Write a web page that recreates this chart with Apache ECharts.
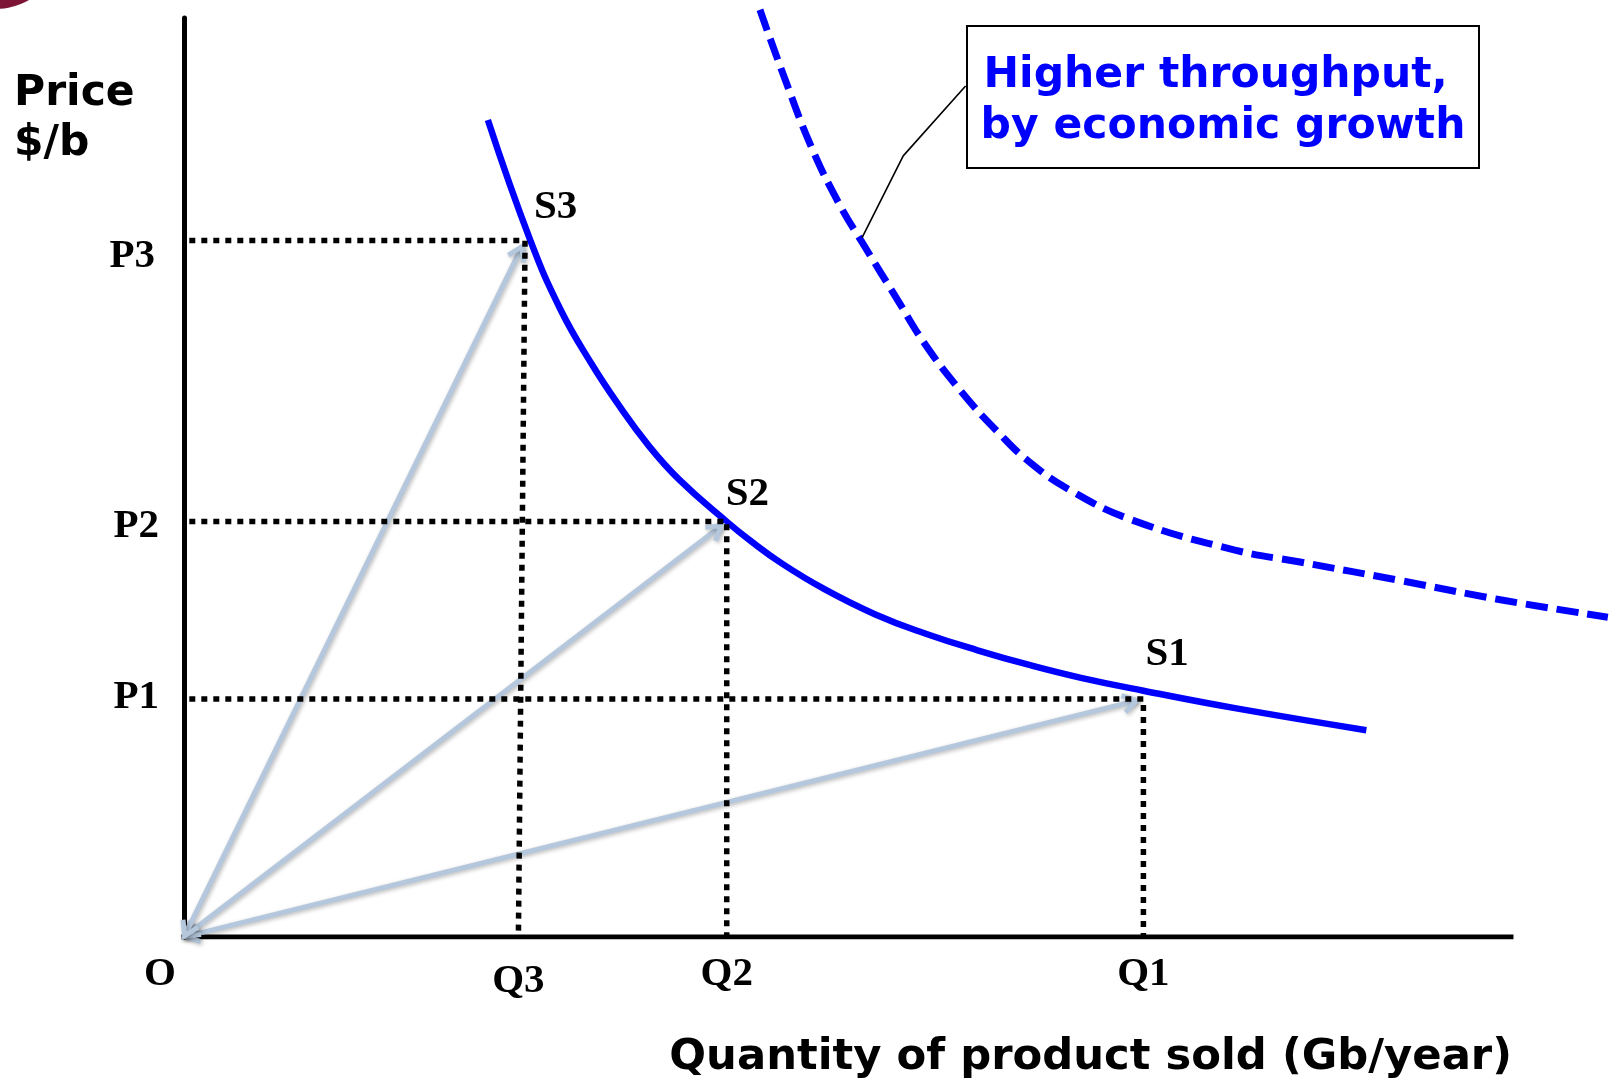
<!DOCTYPE html>
<html><head><meta charset="utf-8">
<script src="https://cdn.jsdelivr.net/npm/echarts@6/dist/echarts.min.js"></script>
<style>html,body{margin:0;padding:0;background:#fff}#c{width:1614px;height:1080px}</style>
</head><body><div id="c"></div>
<script>
// ---- data (chart units: quantity axis drawn 0..100, price 0..100) ----
const priceLabels = ['P1', 'P2', 'P3'];
const priceValues = [25.9, 45.2, 75.8];
const quantityLabels = ['Q1', 'Q2', 'Q3'];
const quantityValues = [72.3, 40.9, 25.7];   // where the drop lines meet the price lines
const quantityBase = [72.3, 40.9, 25.2];     // where the drop lines meet the quantity axis
const pointLabels = ['S1', 'S2', 'S3'];
const originLabel = 'O';
const quantityAxisEnd = 100;

const supplyQ = [22.9, 26.1, 28.4, 30.7, 32.7, 35.0, 37.3, 40.9, 42.7, 45.1, 48.2, 52.1, 55.9, 59.8, 63.7, 67.6, 72.3, 79.2, 89.1];
const supplyP = [88.9, 75.8, 68.2, 62.4, 58.0, 53.5, 49.8, 45.2, 43.1, 40.6, 37.9, 35.1, 33.0, 31.2, 29.6, 28.2, 26.8, 24.9, 22.5];

const growthQ = [43.4, 45.3, 47.3, 49.4, 51.1, 53.7, 55.9, 58.6, 61.3, 63.7, 66.8, 71.4, 79.2, 84.1, 91.6, 99.2, 107.3];
const growthP = [100.9, 93.3, 85.9, 79.7, 75.6, 69.5, 64.4, 59.3, 55.0, 51.7, 48.6, 45.4, 42.1, 40.8, 38.8, 36.7, 34.8];

const calloutQ = [58.9, 54.2, 51.1];
const calloutP = [92.6, 85.0, 76.1];
const calloutText = ['Higher throughput, ', 'by economic growth'];
const yTitle = ['Price', '$/b'];
const xTitle = 'Quantity of product sold (Gb/year)';

// ---- styling / layout ----
const SERIF = '"Liberation Serif", "Times New Roman", serif';
const SANS = '"DejaVu Sans", Verdana, sans-serif';
const BLUE = '#0000ff';
const ARROW = '#b5c7dc';
const sLabelNudge = [[2, -45], [-1, -27], [9, -33]];
const pLabelShift = [-2, 5, 16];   // px down
const pLabelLeft = [0, 0, 4];      // px further left
const qLabelShift = [0, 0, 7];     // px down

const zip = (a, b) => a.map((v, i) => [v, b[i]]);

const chart = echarts.init(document.getElementById('c'), null, {renderer: 'canvas'});

const dotted = priceValues.map((p, i) => ({
  type: 'line', z: 4, silent: true, symbol: 'none', clip: false,
  data: [[0.4, p], [quantityValues[i], p], [quantityBase[i], 0]],
  lineStyle: {color: '#000', width: 5.5, type: [6, 6], cap: 'butt'}
}));

const serifLabel = {fontFamily: SERIF, fontWeight: 'bold', fontSize: 41, color: '#000'};

const pRich = {};
priceLabels.forEach((l, i) => {
  const s = pLabelShift[i];
  pRich['p' + i] = Object.assign({}, serifLabel,
    {padding: s >= 0 ? [2 * s, pLabelLeft[i], 0, 0] : [0, pLabelLeft[i], -2 * s, 0]});
});
const qRich = {o: Object.assign({}, serifLabel, {padding: [0, 48, 0, 0]})};
quantityLabels.forEach((l, i) => {
  qRich['q' + i] = Object.assign({}, serifLabel, {padding: [qLabelShift[i], 0, 0, 0]});
});

const sansText = (text, x, y, size, fill, align) => ({
  type: 'text', x: x, y: y, z: 11,
  style: {text: text, font: 'bold ' + size + 'px ' + SANS, fill: fill,
    align: align, verticalAlign: 'middle', textAlign: align, textVerticalAlign: 'middle'}
});

const option = {
  animation: false,
  backgroundColor: '#fff',
  grid: {left: 184, right: 3.5, top: 18, bottom: 143, containLabel: false, outerBoundsMode: 'none'},
  xAxis: {
    type: 'value', min: 0, max: 107.5,
    splitLine: {show: false}, axisTick: {show: false},
    axisLine: {show: false},
    axisLabel: {
      show: true, margin: 17, customValues: [0].concat(quantityBase),
      formatter: function (v) {
        if (v === 0) return '{o|' + originLabel + '}';
        const i = quantityBase.indexOf(v);
        return '{q' + i + '|' + quantityLabels[i] + '}';
      },
      rich: qRich, ...serifLabel
    }
  },
  yAxis: {
    type: 'value', min: 0, max: 100,
    splitLine: {show: false}, axisTick: {show: false},
    axisLine: {show: true, lineStyle: {color: '#000', width: 5}},
    axisLabel: {
      show: true, margin: 25, customValues: priceValues.slice(),
      formatter: function (v) {
        const i = priceValues.indexOf(v);
        return '{p' + i + '|' + priceLabels[i] + '}';
      },
      rich: pRich, ...serifLabel
    }
  },
  graphic: [
    {type: 'circle', shape: {cx: -5, cy: -60, r: 69}, style: {fill: '#7d1537'}},
    {type: 'rect', shape: {x: 967, y: 26, width: 512, height: 142}, style: {fill: '#fff', stroke: '#000', lineWidth: 2}, z: 10},
    sansText(calloutText[0], 1223, 76, 42.5, BLUE, 'center'),
    sansText(calloutText[1], 1223, 127, 42.5, BLUE, 'center'),
    sansText(yTitle[0], 14, 94, 42.5, '#000', 'left'),
    sansText(yTitle[1], 14, 144, 42.5, '#000', 'left'),
    sansText(xTitle, 1512, 1058, 43.3, '#000', 'right')
  ],
  series: [
    {
      // quantity axis line
      type: 'line', z: 1, silent: true, symbol: 'none',
      data: [[0, 0], [quantityAxisEnd, 0]],
      lineStyle: {color: '#000', width: 5, cap: 'square'}
    },
    {
      type: 'line', z: 2, silent: true, symbol: 'none', clip: false,
      smooth: 0.45,
      data: zip(growthQ, growthP),
      lineStyle: {color: BLUE, width: 7, type: [22, 9], cap: 'butt'}
    },
    {
      type: 'line', z: 2, silent: true, symbol: 'none', clip: false,
      smooth: 0.45,
      data: zip(supplyQ, supplyP),
      lineStyle: {color: BLUE, width: 6.5, cap: 'butt'}
    },
    {
      type: 'line', z: 2, silent: true, symbol: 'none', clip: false,
      data: zip(calloutQ, calloutP),
      lineStyle: {color: '#000', width: 1.6}
    },
    {
      type: 'custom', coordinateSystem: 'cartesian2d', z: 3, silent: true, clip: false,
      data: pointLabels.map((n, i) => [0, 0, quantityValues[i], priceValues[i]]),
      encode: {x: [0, 2], y: [1, 3]},
      renderItem: function (params, api) {
        const a = api.coord([api.value(0), api.value(1)]);
        const b = api.coord([api.value(2), api.value(3)]);
        const dx = b[0] - a[0], dy = b[1] - a[1];
        const len = Math.sqrt(dx * dx + dy * dy);
        const ux = dx / len, uy = dy / len;
        const s = [a[0] + ux * 1.5, a[1] + uy * 1.5];
        const e = [b[0] - ux * 7, b[1] - uy * 7];
        const arm = 16, ang = 32 * Math.PI / 180;
        function head(tip, dirx, diry) {
          const c = Math.cos(ang), sn = Math.sin(ang);
          const p1 = [tip[0] + arm * (dirx * c - diry * sn), tip[1] + arm * (dirx * sn + diry * c)];
          const p2 = [tip[0] + arm * (dirx * c + diry * sn), tip[1] + arm * (-dirx * sn + diry * c)];
          return [p1, tip, p2];
        }
        const style = {stroke: ARROW, lineWidth: 5, fill: null, lineJoin: 'miter', lineCap: 'butt',
          shadowBlur: 4, shadowOffsetX: 1.5, shadowOffsetY: 1.5, shadowColor: 'rgba(0,0,0,0.28)'};
        return {
          type: 'group',
          children: [
            {type: 'line', shape: {x1: s[0], y1: s[1], x2: e[0], y2: e[1]}, style: style},
            {type: 'polyline', shape: {points: head(e, -ux, -uy)}, style: style},
            {type: 'polyline', shape: {points: head(s, ux, uy)}, style: style}
          ]
        };
      }
    },
    ...dotted,
    {
      type: 'scatter', z: 5, silent: true, symbolSize: 0,
      itemStyle: {opacity: 1},
      data: pointLabels.map((n, i) => ({
        name: n, value: [quantityValues[i], priceValues[i]],
        label: {offset: sLabelNudge[i]}
      })),
      label: {show: true, position: 'right', distance: 0, align: 'left', verticalAlign: 'middle',
        formatter: '{b}', textBorderWidth: 0, opacity: 1, ...serifLabel}
    }
  ]
};
chart.setOption(option);
</script>
</body></html>
